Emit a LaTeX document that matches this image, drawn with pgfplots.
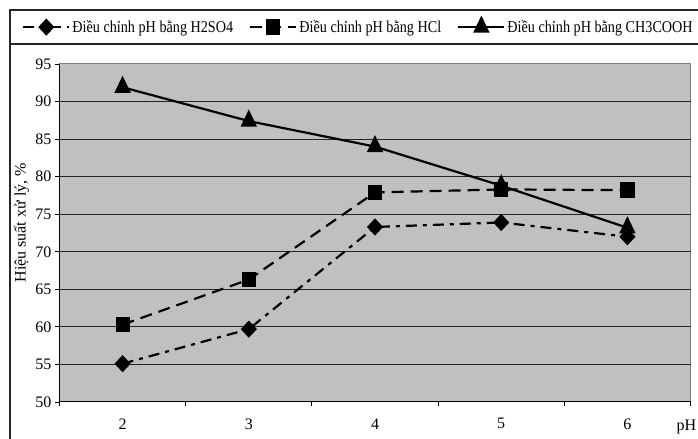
\documentclass[border=0pt]{standalone}
\usepackage{pgfplots}
\pgfplotsset{compat=1.18}
\usepackage{fontspec}
\setmainfont{Liberation Serif}
\newfontfamily\condfont[FakeStretch=0.86]{Liberation Serif}
\definecolor{plotbg}{HTML}{C0C0C0}
\definecolor{frameg}{HTML}{808080}
\begin{document}
\begin{tikzpicture}[x=1bp,y=1bp]
\useasboundingbox (0,0) rectangle (698,439);
\draw[black!85,line width=1.2bp] (10,0) -- (10,429) -- (698,429);
\draw[black!85,line width=1.2bp] (10,395) -- (698,395);
\begin{axis}[
  at={(59.5bp,37bp)}, anchor=south west,
  scale only axis, width=631bp, height=338bp,
  xmin=1.5, xmax=6.5, ymin=50, ymax=95,
  axis lines=left, axis line style={-, black, line width=1bp},
  axis background/.style={fill=plotbg, draw=frameg, line width=1bp},
  tick align=outside, major tick length=4.5bp,
  tick style={black, line width=0.9bp},
  xtick={1.5,2.5,...,6.5}, xticklabels={},
  extra x ticks={2,3,4,5,6},
  extra x tick style={major tick length=0pt, grid=none},
  extra x tick labels={2,3,4,5,6},
  ytick={55,60,...,90},
  extra y ticks={50,95},
  extra y tick style={grid=none},
  ymajorgrids, grid style={black!85, line width=0.9bp},
  /pgf/number format/assume math mode=true,
  ticklabel style={font=\fontsize{16bp}{18bp}\selectfont},
  xticklabel style={yshift=-13bp},
  xlabel={pH},
  xlabel style={at={(axis description cs:1,0)}, anchor=center, yshift=-25bp, xshift=-4bp, font=\fontsize{16bp}{18bp}\selectfont},
  ylabel={Hiệu suất xử lý, \%},
  ylabel style={at={(axis description cs:-0.06,0.53)}, anchor=center, rotate=0, font=\fontsize{16bp}{18bp}\selectfont},
  legend columns=3,
  legend image code/.code={\draw[mark repeat=2,mark phase=2,#1] plot coordinates {(0bp,0bp)(23bp,0bp)(46bp,0bp)};},
  legend style={at={(axis description cs:-0.0594,1.1095)}, anchor=west, draw=none, fill=none, inner sep=0pt,
    font=\condfont\fontsize{16.5bp}{18bp}\selectfont,
    /tikz/every even column/.append style={column sep=14bp}},
  legend cell align=left,
]
\addplot[black, line width=2.2bp, dash pattern=on 11bp off 6bp on 4bp off 6bp,
  mark=diamond*, mark size=7bp, mark options={solid, xscale=1.25}]
  coordinates {(2,55.1) (3,59.7) (4,73.3) (5,73.9) (6,72.0)};
\addlegendentry{Điều chỉnh pH bằng H2SO4}
\addplot[black, line width=2.2bp, dash pattern=on 12bp off 7bp,
  mark=square*, mark size=6bp, mark options={solid, yscale=1.12}]
  coordinates {(2,60.3) (3,66.3) (4,77.9) (5,78.3) (6,78.2)};
\addlegendentry{Điều chỉnh pH bằng HCl}
\addplot[black, line width=2.2bp,
  mark=triangle*, mark size=7.5bp, mark options={solid, yscale=1.2}]
  coordinates {(2,91.9) (3,87.4) (4,84.0) (5,78.8) (6,73.2)};
\addlegendentry{Điều chỉnh pH bằng CH3COOH}
\end{axis}
\end{tikzpicture}
\end{document}
